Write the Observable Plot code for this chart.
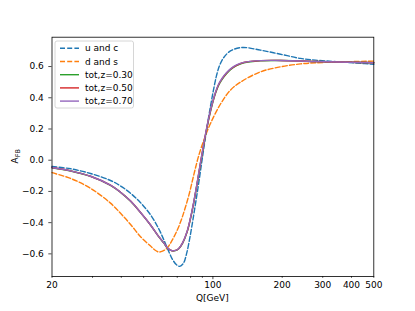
<!DOCTYPE html>
<html><head><meta charset="utf-8">
<script src="https://cdn.jsdelivr.net/npm/d3@7"></script>
<script src="https://cdn.jsdelivr.net/npm/@observablehq/plot@0.6"></script>
<style>body{margin:0;background:#fff}#chart{width:415px;height:311px}</style>
</head><body><div id="chart"></div>
<script>
// ---- data ----
const seriesNames  = ["u and c", "d and s", "tot,z=0.30", "tot,z=0.50", "tot,z=0.70"];
const seriesColors = ["#1f77b4", "#ff7f0e", "#2ca02c", "#d62728", "#9467bd"];
const seriesDashed = [true, true, false, false, false];

const qUC = [20, 24.1, 29.4, 35.9, 39.7, 43.9, 48.5, 53.6, 58.2, 61.2, 64.1, 66.7, 69.5, 71.8, 74.5, 76.8, 79.1, 81.5, 84.0, 86.6, 89.2, 91.9, 94.7, 97.6, 100.6, 103.6, 106.8, 111.1, 119.2, 134, 160.9, 196.6, 240, 279, 445, 500];
const aUC = [-0.040, -0.055, -0.085, -0.130, -0.165, -0.212, -0.272, -0.35, -0.44, -0.51, -0.58, -0.635, -0.67, -0.68, -0.66, -0.60, -0.51, -0.40, -0.28, -0.155, -0.025, 0.105, 0.23, 0.345, 0.45, 0.54, 0.605, 0.655, 0.70, 0.722, 0.705, 0.679, 0.652, 0.641, 0.62, 0.615];

const qDS = [20, 24.1, 29.4, 35.9, 39.7, 43.9, 48.5, 53.6, 55.7, 58.2, 60.4, 63.3, 66.1, 69.9, 73.0, 76.0, 79.1, 81.5, 84.0, 86.6, 91.3, 97.6, 107.9, 119.2, 131.7, 160.9, 196.6, 240, 279, 500];
const aDS = [-0.080, -0.117, -0.180, -0.275, -0.34, -0.412, -0.490, -0.55, -0.573, -0.588, -0.583, -0.563, -0.52, -0.45, -0.38, -0.30, -0.21, -0.13, -0.05, 0.025, 0.128, 0.235, 0.36, 0.449, 0.50, 0.566, 0.598, 0.617, 0.624, 0.635];

const qTot = [20, 24.1, 29.4, 35.9, 39.7, 43.9, 48.5, 53.6, 58.2, 61.2, 63.5, 66.5, 68.8, 71.1, 73.8, 77.3, 79.9, 82.6, 85.5, 88.3, 91.0, 93.8, 96.6, 99.6, 102.6, 105.7, 109.7, 114.5, 119.2, 126.6, 136.2, 160.9, 196.6, 240, 279, 445, 500];
const aTot30 = [-0.048, -0.069, -0.104, -0.161, -0.206, -0.263, -0.336, -0.416, -0.491, -0.531, -0.563, -0.581, -0.579, -0.567, -0.533, -0.459, -0.375, -0.271, -0.147, -0.022, 0.088, 0.193, 0.283, 0.363, 0.428, 0.478, 0.518, 0.554, 0.58, 0.606, 0.624, 0.637, 0.639, 0.636, 0.632, 0.626, 0.624];
const aTot50 = [-0.047, -0.068, -0.103, -0.160, -0.205, -0.262, -0.335, -0.415, -0.490, -0.530, -0.562, -0.580, -0.578, -0.565, -0.531, -0.457, -0.372, -0.268, -0.143, -0.018, 0.092, 0.197, 0.287, 0.367, 0.432, 0.482, 0.522, 0.557, 0.583, 0.608, 0.626, 0.638, 0.639, 0.636, 0.632, 0.626, 0.624];
const aTot70 = [-0.047, -0.068, -0.103, -0.160, -0.205, -0.262, -0.335, -0.415, -0.490, -0.530, -0.562, -0.580, -0.578, -0.565, -0.530, -0.455, -0.370, -0.265, -0.140, -0.015, 0.095, 0.200, 0.290, 0.370, 0.435, 0.485, 0.525, 0.560, 0.585, 0.610, 0.627, 0.638, 0.639, 0.636, 0.632, 0.626, 0.624];

const xTickLabels = [20, 100, 200, 300, 400, 500];
const xMinorTicks = [20, 30, 40, 50, 60, 70, 80, 90, 200, 300, 400, 500];
const xMajorTicks = [100];
const yTicks = [-0.6, -0.4, -0.2, 0.0, 0.2, 0.4, 0.6];
const xLabel = "Q[GeV]";
const yLabelMain = "A", yLabelSub = "FB";

// ---- build table ----
const seriesQ = [qUC, qDS, qTot, qTot, qTot];
const seriesA = [aUC, aDS, aTot30, aTot50, aTot70];
const rows = [];
seriesNames.forEach((name, s) => seriesQ[s].forEach((q, i) => rows.push({series: name, q, v: seriesA[s][i]})));

const lineMarks = seriesNames.map((name, s) => Plot.line(rows.filter(d => d.series === name), {
  x: "q", y: "v", stroke: seriesColors[s], strokeWidth: 1.4,
  strokeDasharray: seriesDashed[s] ? "5,2.2" : null, curve: "catmull-rom"
}));

const fmt = d3.format(".1f");
const chart = Plot.plot({
  width: 415, height: 311,
  marginLeft: 51.5, marginRight: 41.7, marginTop: 36.7, marginBottom: 35,
  style: {fontFamily: "DejaVu Sans", fontSize: "9px", background: "white", color: "black"},
  x: {type: "log", domain: [20, 500], label: null},
  y: {domain: [-0.745, 0.788], label: null},
  marks: [
    ...lineMarks,
    Plot.axisX({ticks: xMinorTicks, tickSize: 1.8, tickFormat: () => "", label: null, strokeWidth: 0.7}),
    Plot.axisX({ticks: xMajorTicks, tickSize: 3.2, tickFormat: () => "", label: null, strokeWidth: 0.7}),
    Plot.text(xTickLabels, {x: d => d, text: d => String(d), frameAnchor: "bottom", lineAnchor: "top", dy: 5.5, fill: "black"}),
    Plot.axisY({ticks: yTicks, tickSize: 3.2, tickPadding: 5, tickFormat: d => fmt(d), label: null, strokeWidth: 0.7}),
    Plot.frame({stroke: "black", strokeWidth: 0.8})
  ]
});
document.getElementById("chart").appendChild(chart);

// ---- axis titles ----
const svg = d3.select(chart);
svg.append("text").attr("x", 212.4).attr("y", 300.5).attr("text-anchor", "middle")
  .attr("font-size", 9).attr("fill", "black").text(xLabel);
const yl = svg.append("text").attr("transform", "translate(18,156.3) rotate(-90)")
  .attr("text-anchor", "middle").attr("font-size", 9).attr("fill", "black");
yl.append("tspan").text(yLabelMain);
yl.append("tspan").attr("dy", 2).attr("font-size", 6.5).text(yLabelSub);

// ---- legend ----
const lg = svg.append("g").attr("transform", "translate(55,41)");
lg.append("rect").attr("width", 78.5).attr("height", 67).attr("rx", 2)
  .attr("fill", "white").attr("fill-opacity", 0.8).attr("stroke", "#cccccc").attr("stroke-width", 0.8);
seriesNames.forEach((name, s) => {
  const y = 7.3 + s * 13.2;
  lg.append("line").attr("x1", 5).attr("x2", 24).attr("y1", y).attr("y2", y)
    .attr("stroke", seriesColors[s]).attr("stroke-width", 1.4)
    .attr("stroke-dasharray", seriesDashed[s] ? "5,2.2" : null);
  lg.append("text").attr("x", 30).attr("y", y).attr("dy", "0.35em").attr("text-anchor", "start")
    .attr("font-size", 9).attr("fill", "black").text(name);
});
</script>
</body></html>
